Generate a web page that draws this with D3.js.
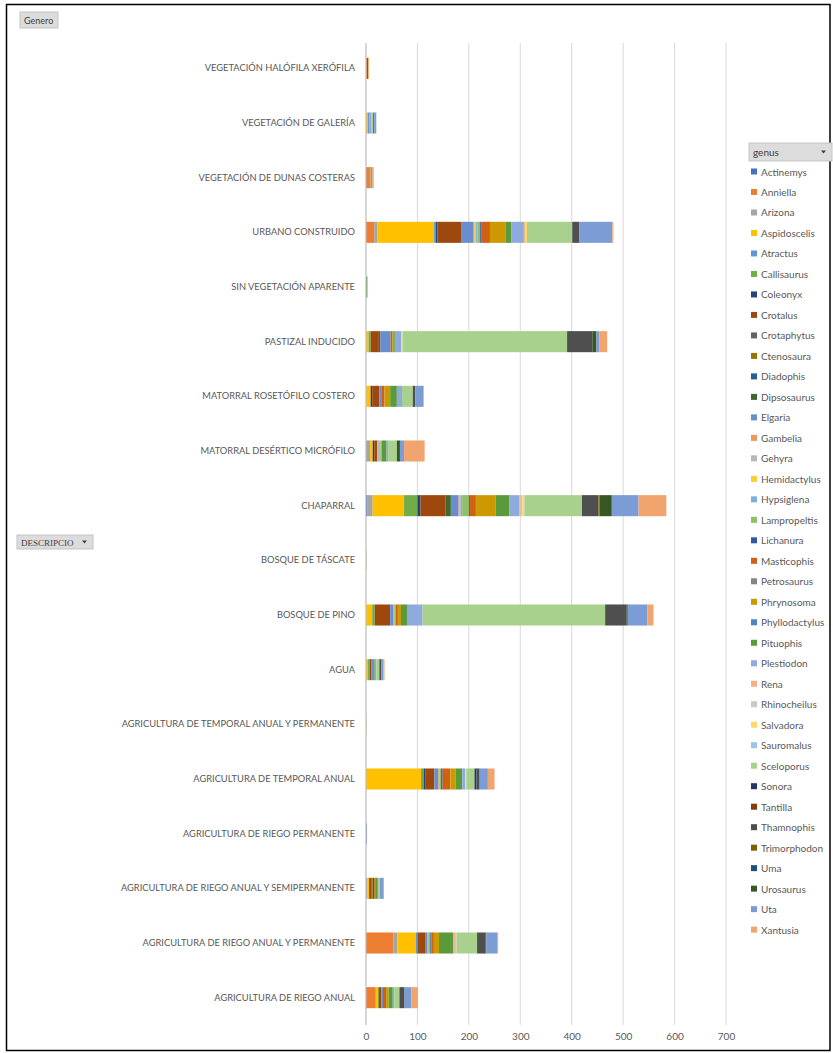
<!DOCTYPE html>
<html>
<head>
<meta charset="utf-8">
<script src="https://cdn.jsdelivr.net/npm/d3@7"></script>
<style>
body{margin:0;background:#fff;}
svg{display:block;}
</style>
</head>
<body>
<svg id="chart" width="833" height="1053"></svg>
<script>
// ---------- DATA ----------
const categories = [
  "VEGETACIÓN HALÓFILA XERÓFILA",
  "VEGETACIÓN DE GALERÍA",
  "VEGETACIÓN DE DUNAS COSTERAS",
  "URBANO CONSTRUIDO",
  "SIN VEGETACIÓN APARENTE",
  "PASTIZAL INDUCIDO",
  "MATORRAL ROSETÓFILO COSTERO",
  "MATORRAL DESÉRTICO MICRÓFILO",
  "CHAPARRAL",
  "BOSQUE DE TÁSCATE",
  "BOSQUE DE PINO",
  "AGUA",
  "AGRICULTURA DE TEMPORAL ANUAL Y PERMANENTE",
  "AGRICULTURA DE TEMPORAL ANUAL",
  "AGRICULTURA DE RIEGO PERMANENTE",
  "AGRICULTURA DE RIEGO ANUAL Y SEMIPERMANENTE",
  "AGRICULTURA DE RIEGO ANUAL Y PERMANENTE",
  "AGRICULTURA DE RIEGO ANUAL"
];

const genera = ["Actinemys","Anniella","Arizona","Aspidoscelis","Atractus","Callisaurus","Coleonyx","Crotalus","Crotaphytus","Ctenosaura","Diadophis","Dipsosaurus","Elgaria","Gambelia","Gehyra","Hemidactylus","Hypsiglena","Lampropeltis","Lichanura","Masticophis","Petrosaurus","Phrynosoma","Phyllodactylus","Pituophis","Plestiodon","Rena","Rhinocheilus","Salvadora","Sauromalus","Sceloporus","Sonora","Tantilla","Thamnophis","Trimorphodon","Uma","Urosaurus","Uta","Xantusia"];

const genusColors = ["#4472C4","#ED7D31","#A5A5A5","#FFC000","#5B9BD5","#70AD47",
  "#264478","#9E480E","#636363","#997300","#255E91","#43682B",
  "#698ED0","#F1975A","#B7B7B7","#FFCD33","#7CAFDD","#8CC168",
  "#335AA1","#D26012","#848484","#CC9A00","#4A86C5","#5B9A3A",
  "#8FAADC","#F4B183","#C9C9C9","#FFD966","#9DC3E6","#A9D18E",
  "#203864","#843C0C","#4F4F4F","#7F6000","#1F4E79","#385723",
  "#7C9CD6","#F2A46F"];

// counts per category (only non-zero genera listed)
const vegHalofila   = {Anniella:2, Crotalus:2, Phrynosoma:1, Xantusia:1};
const vegGaleria    = {Aspidoscelis:4, Elgaria:3, Plestiodon:3, Sceloporus:4, Thamnophis:2, Uta:4};
const vegDunas      = {Anniella:6, Phrynosoma:3, Uta:3, Xantusia:3};
const urbano        = {Anniella:16, Arizona:6, Aspidoscelis:110, Atractus:2, Callisaurus:2, Coleonyx:3, Crotalus:47, Elgaria:22, Gambelia:3, Hemidactylus:3, Hypsiglena:3, Lampropeltis:5, Lichanura:3, Masticophis:16, Phrynosoma:30, Pituophis:12, Plestiodon:24, Rena:3, Salvadora:3, Sceloporus:88, Thamnophis:14, Uta:64, Xantusia:2};
const sinVegetacion = {Callisaurus:2, Uta:1};
const pastizal      = {Aspidoscelis:5, Callisaurus:4, Dipsosaurus:3, Crotalus:16, Elgaria:20, Masticophis:3, Phrynosoma:2, Pituophis:3, Plestiodon:13, Salvadora:2, Sceloporus:320, Thamnophis:49, Urosaurus:8, Uta:6, Xantusia:15};
const matorralRoset = {Aspidoscelis:9, Coleonyx:3, Crotalus:14, Elgaria:5, Masticophis:5, Phrynosoma:11, Pituophis:13, Plestiodon:10, Sceloporus:21, Thamnophis:5, Uta:16};
const matorralDes   = {Arizona:8, Aspidoscelis:5, Coleonyx:3, Crotalus:6, Gehyra:6, Lampropeltis:3, Pituophis:9, Plestiodon:3, Sceloporus:17, Urosaurus:6, Uta:8, Xantusia:40};
const chaparral     = {Actinemys:3, Arizona:10, Aspidoscelis:61, Callisaurus:26, Coleonyx:6, Crotalus:49, Dipsosaurus:10, Elgaria:15, Gambelia:2, Gehyra:2, Hypsiglena:3, Lampropeltis:13, Lichanura:2, Masticophis:10, Petrosaurus:2, Phrynosoma:38, Pituophis:27, Plestiodon:19, Rena:3, Rhinocheilus:3, Salvadora:4, Sceloporus:112, Thamnophis:32, Trimorphodon:2, Urosaurus:24, Uta:52, Xantusia:54};
const bosqueTascate = {Sceloporus:1};
const bosquePino    = {Aspidoscelis:12, Callisaurus:5, Crotalus:30, Elgaria:6, Gambelia:2, Lampropeltis:3, Masticophis:4, Phrynosoma:6, Pituophis:13, Plestiodon:29, Sceloporus:355, Thamnophis:42, Urosaurus:2, Uta:38, Xantusia:12};
const agua          = {Aspidoscelis:4, Callisaurus:3, Crotalus:3, Elgaria:4, Pituophis:3, Plestiodon:3, Sceloporus:6, Thamnophis:4, Uta:4, Xantusia:2};
const agrTempAnPer  = {Sceloporus:1};
const agrTempAnual  = {Aspidoscelis:107, Callisaurus:5, Coleonyx:3, Crotalus:18, Elgaria:8, Gambelia:2, Lampropeltis:3, Lichanura:3, Masticophis:15, Phrynosoma:10, Pituophis:13, Plestiodon:6, Salvadora:2, Sceloporus:16, Sonora:4, Thamnophis:6, Uta:16, Xantusia:13};
const agrRiegoPerm  = {Uta:2};
const agrRiegoAnSemi= {Arizona:3, Aspidoscelis:3, Crotalus:4, Ctenosaura:3, Dipsosaurus:3, Masticophis:3, Pituophis:4, Sceloporus:4, Uta:6, Xantusia:2};
const agrRiegoAnPer = {Anniella:53, Arizona:8, Aspidoscelis:36, Atractus:3, Crotalus:16, Elgaria:3, Gambelia:2, Lampropeltis:4, Lichanura:2, Masticophis:5, Phrynosoma:10, Pituophis:28, Rena:3, Rhinocheilus:3, Sceloporus:40, Thamnophis:16, Urosaurus:2, Uta:21, Xantusia:2};
const agrRiegoAnual = {Anniella:19, Aspidoscelis:4, Callisaurus:2, Crotalus:5, Elgaria:3, Masticophis:6, Phrynosoma:5, Pituophis:8, Plestiodon:3, Sceloporus:10, Thamnophis:10, Uta:13, Xantusia:13};

const categoryValues = [vegHalofila, vegGaleria, vegDunas, urbano, sinVegetacion, pastizal, matorralRoset, matorralDes, chaparral, bosqueTascate, bosquePino, agua, agrTempAnPer, agrTempAnual, agrRiegoPerm, agrRiegoAnSemi, agrRiegoAnPer, agrRiegoAnual];

const xTicks = [0,100,200,300,400,500,600,700];

// ---------- DRAW ----------
const svg = d3.select("#chart");
const textColor = "#595959";
const font = "Lato, 'Open Sans', sans-serif";

// chart frame
svg.append("rect").attr("x",6.5).attr("y",4.5).attr("width",823.5).attr("height",1046)
  .attr("fill","#fff").attr("stroke","#000").attr("stroke-width",1.5);

const x = d3.scaleLinear().domain([0,700]).range([366,726]);
const y = d3.scaleBand().domain(categories).range([41,1025]).paddingInner(0.615).paddingOuter(0.3075);

// gridlines
svg.append("g").selectAll("line").data(xTicks).join("line")
  .attr("x1",d=>x(d)).attr("x2",d=>x(d)).attr("y1",43).attr("y2",1025)
  .attr("stroke","#d9d9d9").attr("stroke-width",1);

// stacked data
const table = categories.map((c,i)=>{
  const row = {category:c};
  genera.forEach(g=>row[g] = categoryValues[i][g] || 0);
  return row;
});
const stack = d3.stack().keys(genera)(table);
const color = d3.scaleOrdinal().domain(genera).range(genusColors);

svg.append("g").selectAll("g").data(stack).join("g")
  .attr("fill",d=>color(d.key))
  .selectAll("rect").data(d=>d.filter(p=>p[1]-p[0]>0)).join("rect")
  .attr("x",d=>x(d[0])).attr("width",d=>x(d[1])-x(d[0]))
  .attr("y",d=>y(d.data.category)).attr("height",y.bandwidth());

// y axis line
svg.append("line").attr("x1",366).attr("x2",366).attr("y1",43).attr("y2",1025)
  .attr("stroke","#bfbfbf").attr("stroke-width",1);

// category labels
const yAxis = d3.axisLeft(y).tickSize(0).tickPadding(11);
const yg = svg.append("g").attr("transform","translate(366,0)").call(yAxis);
yg.select(".domain").remove();
yg.selectAll("text").attr("fill",textColor).style("font-family",font).style("font-size","9.3px");

// x axis labels
const xAxis = d3.axisBottom(x).tickValues(xTicks).tickSize(0).tickPadding(8);
const xg = svg.append("g").attr("transform","translate(0,1025)").call(xAxis);
xg.select(".domain").remove();
xg.selectAll("text").attr("fill",textColor).style("font-family",font).style("font-size","10px");

// field buttons
function button(x0,y0,w,h,label,arrow,fam,fs){
  const g = svg.append("g");
  g.append("rect").attr("x",x0).attr("y",y0).attr("width",w).attr("height",h)
    .attr("fill","#dcdcdc").attr("stroke","#c4c4c4");
  g.append("text").attr("x",x0+4).attr("y",y0+h/2+3.5).text(label)
    .attr("fill","#404040").style("font-family",fam).style("font-size",fs);
  if(arrow){
    g.append("path").attr("d",`M${x0+w-11},${y0+h/2-1.5}l5,0l-2.5,3z`).attr("fill","#404040");
  }
}
button(20,12,38,16,"Genero",false,font,"9px");
button(17,535,76,14,"DESCRIPCIO",true,"'Liberation Serif', serif","9px");
button(749,143,83,18,"genus",true,font,"10px");

// legend
const legend = svg.append("g").selectAll("g").data(genera).join("g")
  .attr("transform",(d,i)=>`translate(751,${172 + i*20.49})`);
legend.append("rect").attr("x",0).attr("y",-3.5).attr("width",6).attr("height",6).attr("fill",d=>color(d));
legend.append("text").attr("x",10).attr("y",3.5).text(d=>d)
  .attr("fill",textColor).style("font-family",font).style("font-size","10px");
</script>
</body>
</html>
